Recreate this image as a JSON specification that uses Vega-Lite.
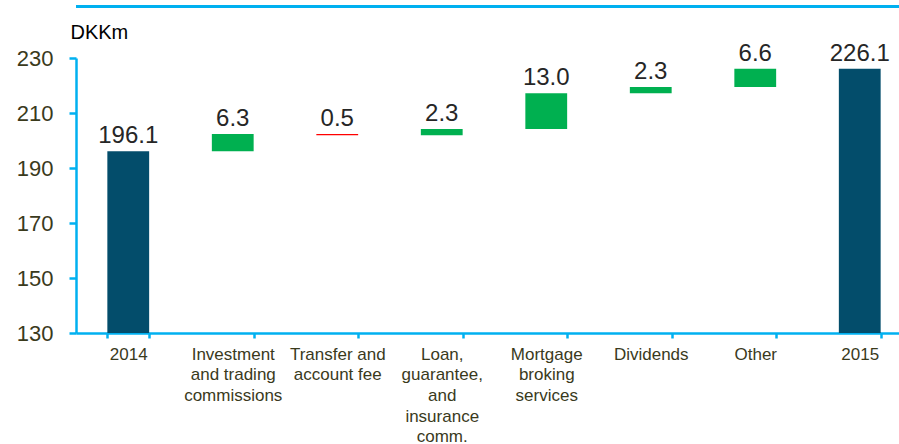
{
  "$schema": "https://vega.github.io/schema/vega-lite/v6.json",
  "width": 836,
  "height": 275,
  "autosize": "none",
  "padding": {"left": 76, "top": 58, "right": 0, "bottom": 111},
  "background": "white",
  "config": {"view": {"stroke": null}, "font": "Liberation Sans"},
  "layer": [
    {
      "data": {"name": "bars", "values": [
        {"category": "2014", "start": 0, "end": 196.1, "top": 196.1, "label": "196.1", "type": "total"},
        {"category": "Investment|and trading|commissions", "start": 196.1, "end": 202.4, "top": 202.4, "label": "6.3", "type": "increase"},
        {"category": "Transfer and|account fee", "start": 202.4, "end": 201.9, "top": 202.4, "label": "0.5", "type": "decrease"},
        {"category": "Loan,|guarantee,|and|insurance|comm.", "start": 201.9, "end": 204.2, "top": 204.2, "label": "2.3", "type": "increase"},
        {"category": "Mortgage|broking|services", "start": 204.2, "end": 217.2, "top": 217.2, "label": "13.0", "type": "increase"},
        {"category": "Dividends", "start": 217.2, "end": 219.5, "top": 219.5, "label": "2.3", "type": "increase"},
        {"category": "Other", "start": 219.5, "end": 226.1, "top": 226.1, "label": "6.6", "type": "increase"},
        {"category": "2015", "start": 0, "end": 226.1, "top": 226.1, "label": "226.1", "type": "total"}
      ]},
      "encoding": {
        "x": {
          "field": "category", "type": "nominal", "sort": null,
          "scale": {"paddingInner": 0.6, "paddingOuter": 0.3},
          "axis": {
            "title": null, "labelAngle": 0, "labelExpr": "split(datum.label, '|')",
            "labelFont": "Liberation Sans", "labelFontSize": 17, "labelColor": "#3a3a1c",
            "labelLineHeight": 20.7, "labelPadding": 8, "labelBaseline": "top",
            "domainColor": "#00B0F0", "domainWidth": 2.5, "tickColor": "#00B0F0", "tickWidth": 2.5,
            "tickSize": 5, "tickBand": "extent", "labelLimit": 200
          }
        }
      },
      "layer": [
        {
          "mark": {"type": "bar", "clip": true},
          "encoding": {
            "y": {
              "field": "start", "type": "quantitative",
              "scale": {"domain": [130, 230], "zero": false, "nice": false},
              "axis": {
                "values": [130, 150, 170, 190, 210, 230], "grid": false,
                "labelFont": "Liberation Sans", "labelFontSize": 22, "labelColor": "#3a3a1c", "labelPadding": 16,
                "domainColor": "#00B0F0", "domainWidth": 2.5, "tickColor": "#00B0F0", "tickWidth": 2.5, "tickSize": 7,
                "title": "DKKm", "titleAngle": 0, "titleX": -6, "titleY": -20, "titleAlign": "left",
                "titleBaseline": "alphabetic", "titleFont": "Liberation Sans", "titleFontSize": 20,
                "titleFontWeight": "normal", "titleColor": "#000000"
              }
            },
            "y2": {"field": "end"},
            "color": {
              "field": "type", "type": "nominal", "legend": null,
              "scale": {"domain": ["total", "increase", "decrease"], "range": ["#034D6B", "#00B050", "#FF0000"]}
            }
          }
        },
        {
          "mark": {"type": "text", "baseline": "alphabetic", "dy": -8, "fontSize": 24, "font": "Liberation Sans", "color": "#262626"},
          "encoding": {
            "y": {"field": "top", "type": "quantitative"},
            "text": {"field": "label"}
          }
        }
      ]
    },
    {
      "data": {"values": [{"v": 248.7}]},
      "mark": {"type": "rule", "color": "#00B0F0", "strokeWidth": 3},
      "encoding": {"y": {"field": "v", "type": "quantitative"}}
    }
  ]
}
